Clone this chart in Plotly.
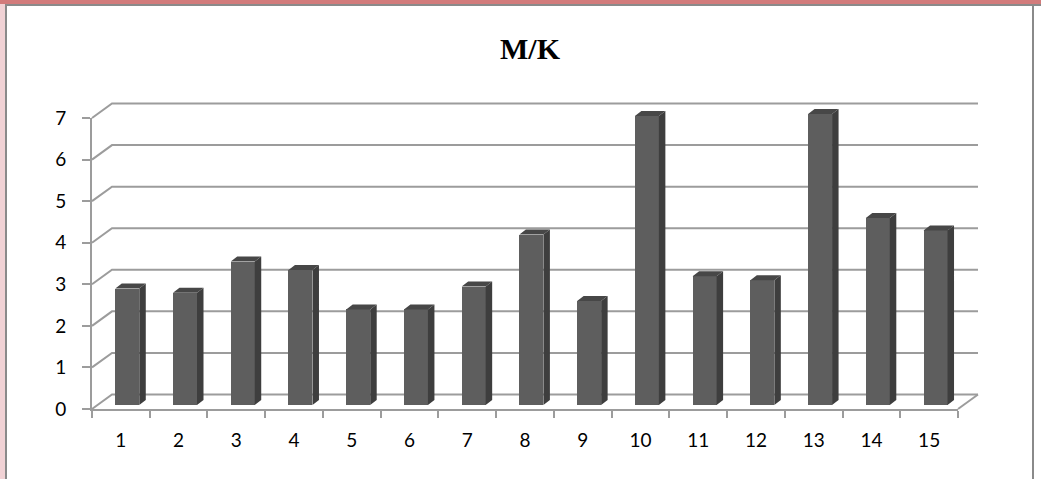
import numpy as np
import plotly.graph_objects as go

# ---- data ----
categories = [str(i) for i in range(1, 16)]
values = [2.8, 2.7, 3.45, 3.25, 2.3, 2.3, 2.85, 4.1, 2.5, 6.95, 3.1, 3.0, 7.0, 4.5, 4.2]
y_ticks = [0, 1, 2, 3, 4, 5, 6, 7]
title_text = "M/K"

# ---- geometry of the pseudo-3D frame (pixels) ----
W, H = 1041, 479
X0_PX, X1_PX = 92, 958          # front floor edge, left / right
Y0_PX, YTOP_PX = 409, 118       # front value axis, 0 and max tick
n = len(categories)
y_max = y_ticks[-1]
px_cat = (X1_PX - X0_PX) / n
px_unit = (Y0_PX - YTOP_PX) / y_max


def px_to_x(px):
    return 0.5 + (px - X0_PX) / px_cat


def px_to_y(py):
    return (Y0_PX - py) / px_unit


wall_dx, wall_dy = 20 / px_cat, 14.5 / px_unit      # depth of the back wall
bar_dx, bar_base = 6.4 / px_cat, 4 / px_unit         # bar plane offset
bar_w = 24 / px_cat
depth_dx, depth_dy = 6.5 / px_cat, 5 / px_unit       # bar thickness

GRID = "#9c9c9c"
FRONT, SIDE, TOP = "#5e5e5e", "#3e3e3e", "#474747"

fig = go.Figure()

# anchor trace for the front axes (labels & ticks only)
fig.add_trace(go.Scatter(x=[1, n], y=[0, 0], mode="markers", marker=dict(opacity=0),
                         hoverinfo="skip", showlegend=False, xaxis="x", yaxis="y"))

# back-wall gridlines with their diagonal connectors to the front axis
gx, gy = [], []
for v in y_ticks:
    gx += [0.5, 0.5 + wall_dx, n + 0.5 + wall_dx, None]
    gy += [v, v + wall_dy, v + wall_dy, None]
gx += [n + 0.5, n + 0.5 + wall_dx, None]
gy += [0, wall_dy, None]
fig.add_trace(go.Scatter(x=gx, y=gy, mode="lines", line=dict(color=GRID, width=2),
                         hoverinfo="skip", showlegend=False, xaxis="x2", yaxis="y2"))

# bars (own subplot layer, above the wall): front faces
xc = np.arange(1, n + 1) + bar_dx
vals = np.array(values)
fig.add_trace(go.Bar(x=xc, y=vals, base=bar_base, width=bar_w,
                     marker=dict(color=FRONT, line=dict(width=0)),
                     hoverinfo="skip", showlegend=False, xaxis="x3", yaxis="y3"))

# side and top faces
sx, sy, tx, ty = [], [], [], []
for c, v in zip(xc, vals):
    xl, xr = c - bar_w / 2, c + bar_w / 2
    top = bar_base + v
    sx += [xr, xr + depth_dx, xr + depth_dx, xr, xr, None]
    sy += [bar_base, bar_base + depth_dy, top + depth_dy, top, bar_base, None]
    tx += [xl, xl + depth_dx, xr + depth_dx, xr, xl, None]
    ty += [top, top + depth_dy, top + depth_dy, top, top, None]
fig.add_trace(go.Scatter(x=sx, y=sy, mode="lines", fill="toself", fillcolor=SIDE,
                         line=dict(width=0, color=SIDE), hoverinfo="skip",
                         showlegend=False, xaxis="x3", yaxis="y3"))
fig.add_trace(go.Scatter(x=tx, y=ty, mode="lines", fill="toself", fillcolor=TOP,
                         line=dict(width=0, color=TOP), hoverinfo="skip",
                         showlegend=False, xaxis="x3", yaxis="y3"))

tickfont = dict(family="Lato", size=19, color="black")
full_x = dict(domain=[0, 1], range=[px_to_x(0), px_to_x(W)], visible=False,
              fixedrange=True, automargin=False)
full_y = dict(domain=[0, 1], range=[px_to_y(H), px_to_y(0)], visible=False,
              fixedrange=True, automargin=False)

fig.update_layout(
    template="none",
    width=W, height=H,
    margin=dict(l=0, r=0, t=0, b=0, pad=0, autoexpand=False),
    paper_bgcolor="white", plot_bgcolor="rgba(0,0,0,0)",
    showlegend=False, hovermode=False,
    title=dict(text="<b>" + title_text + "</b>",
               font=dict(family="Liberation Serif", size=30, color="black"),
               x=530 / W, xanchor="center", xref="paper",
               y=1 - 48 / H, yanchor="middle", yref="container"),
    xaxis=dict(domain=[X0_PX / W, X1_PX / W], range=[0.5, n + 0.5],
               tickvals=list(range(1, n + 1)), ticktext=categories,
               ticks="", showline=True, linecolor=GRID, linewidth=2,
               showgrid=False, zeroline=False, tickfont=tickfont,
               ticklabelstandoff=13, automargin=False,
               minor=dict(tickvals=[i + 0.5 for i in range(n + 1)], ticks="outside",
                          ticklen=7, tickwidth=2, tickcolor=GRID, showgrid=False),
               anchor="y"),
    yaxis=dict(domain=[(H - Y0_PX) / H, (H - YTOP_PX) / H], range=[0, y_max],
               tickvals=y_ticks, ticks="outside", ticklen=8, tickwidth=2,
               tickcolor=GRID, showline=True, linecolor=GRID, linewidth=2,
               showgrid=False, zeroline=False, tickfont=tickfont,
               ticklabelstandoff=12, automargin=False, anchor="x"),
    xaxis2=dict(full_x, anchor="y2"),
    yaxis2=dict(full_y, anchor="x2"),
    xaxis3=dict(full_x, anchor="y3"),
    yaxis3=dict(full_y, anchor="x3"),
    bargap=0,
)

# outer frame: page strip, chart border
def px_rect(x0, y0, x1, y1, color):
    fig.add_shape(type="rect", xref="paper", yref="paper",
                  x0=x0 / W, x1=x1 / W, y0=1 - y1 / H, y1=1 - y0 / H,
                  fillcolor=color, line=dict(width=0), layer="above")

px_rect(0, 0, W, 4, "#d27b7b")
px_rect(0, 4, 5, H, "#f1d2d5")
px_rect(5, 4, W, 6, "#8a8a8a")
px_rect(5, 4, 7, H, "#8a8a8a")
px_rect(1032, 4, 1034, H, "#8a8a8a")

fig.write_html("out.html")
